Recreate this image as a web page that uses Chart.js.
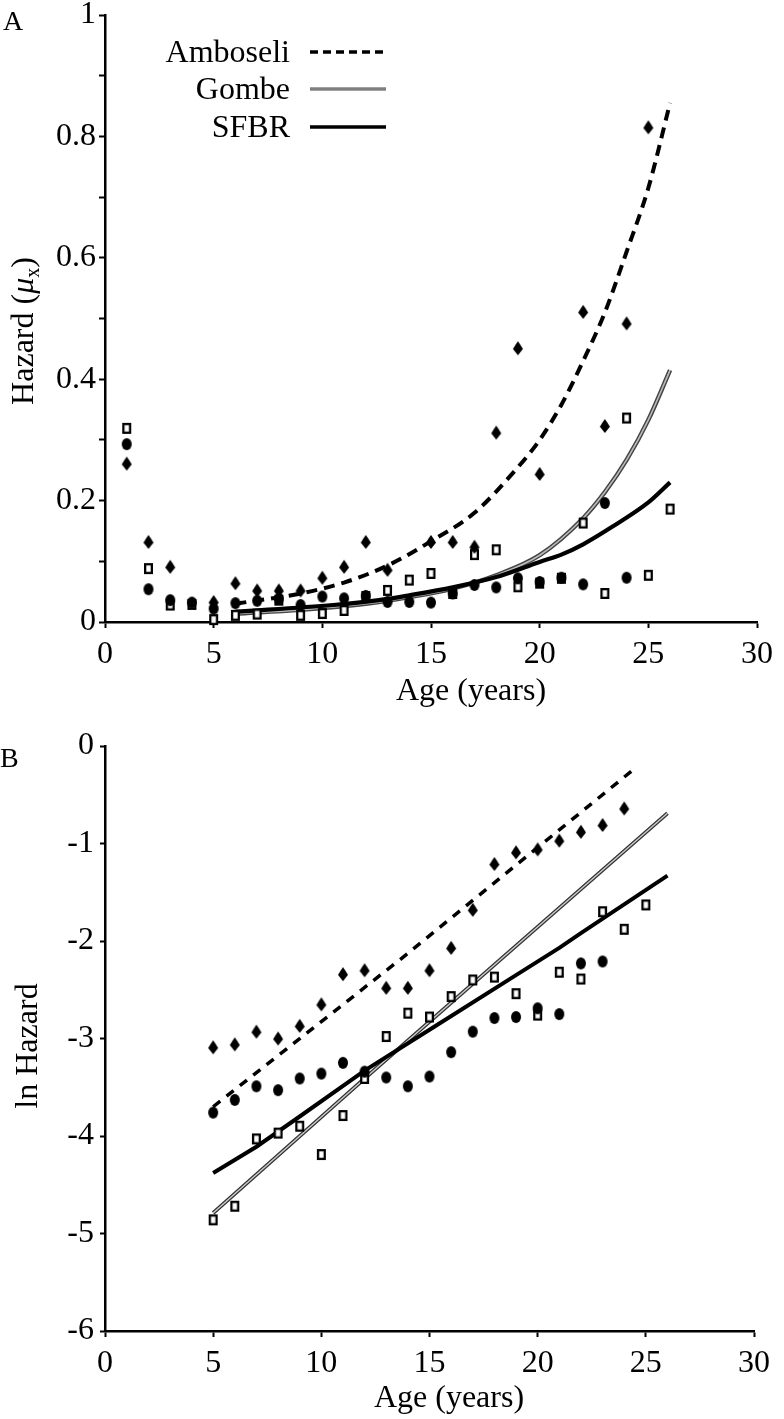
<!DOCTYPE html>
<html>
<head>
<meta charset="utf-8">
<script src="https://cdn.jsdelivr.net/npm/chart.js@4.4.0/dist/chart.umd.min.js"></script>
<style>
  html, body { margin: 0; padding: 0; background: #fff; }
  #wrap { position: relative; width: 784px; height: 1419px; overflow: hidden; }
  canvas { position: absolute; left: 0; }
  #chartA { top: 0; }
  #chartB { top: 712px; }
</style>
</head>
<body>
<div id="wrap">
  <canvas id="chartA" width="784" height="712"></canvas>
  <canvas id="chartB" width="784" height="707"></canvas>
</div>
<script>
// ---- data ----
const seriesNames = ['Amboseli', 'Gombe', 'SFBR'];
const ageTicks = [0, 5, 10, 15, 20, 25, 30];

// Panel A: hazard by age
const agesA = [1, 2, 3, 4, 5, 6, 7, 8, 9, 10, 11, 12, 13, 14, 15, 16, 17, 18, 19, 20, 21, 22, 23, 24, 25, 26];
const amboseliA = [0.261, 0.132, 0.091, null, 0.033, 0.064, 0.052, 0.052, 0.052, 0.073, 0.091, 0.132, 0.086, null,
                   0.132, 0.132, 0.124, 0.312, 0.451, 0.244, null, 0.511, 0.323, 0.492, 0.815, null];
const gombeA = [0.319, 0.088, 0.028, 0.029, 0.004, 0.011, 0.013, 0.036, 0.011, 0.014, 0.019, 0.042, 0.052, 0.069,
                0.080, 0.047, 0.111, 0.119, 0.058, 0.064, 0.072, 0.163, 0.047, 0.336, 0.077, 0.186];
const sfbrA = [0.293, 0.054, 0.036, 0.032, 0.022, 0.031, 0.035, 0.038, 0.028, 0.042, 0.039, 0.043, 0.033, 0.033,
               0.032, 0.047, 0.061, 0.057, 0.072, 0.066, 0.073, 0.062, 0.196, 0.073, null, null];

// Panel A fitted curves
const amboseliFitAgeA = [6, 9, 11, 13, 15, 17, 19, 20, 21, 22, 23, 24, 25, 26];
const amboseliFitA = [0.030, 0.047, 0.065, 0.093, 0.133, 0.180, 0.255, 0.300, 0.358, 0.430, 0.510, 0.610, 0.715, 0.855];
const gombeFitAgeA = [6, 9, 12, 14, 16, 18, 20, 22, 23, 24, 25, 26];
const gombeFitA = [0.014, 0.020, 0.030, 0.041, 0.055, 0.077, 0.110, 0.171, 0.214, 0.267, 0.333, 0.415];
const sfbrFitAgeA = [6, 10.5, 12.6, 14, 16, 18, 20, 21, 22, 23.3, 25, 26];
const sfbrFitA = [0.017, 0.028, 0.036, 0.044, 0.057, 0.074, 0.099, 0.111, 0.128, 0.156, 0.197, 0.230];

// Panel B: ln hazard by age
const agesB = [5, 6, 7, 8, 9, 10, 11, 12, 13, 14, 15, 16, 17, 18, 19, 20, 21, 22, 23, 24, 25];
const amboseliB = [-3.09, -3.06, -2.93, -3.00, -2.87, -2.65, -2.34, -2.30, -2.48, -2.48, -2.30, -2.07, -1.68, -1.21,
                   -1.09, -1.06, -0.97, -0.88, -0.81, -0.64, null];
const gombeB = [-4.86, -4.72, -4.03, -3.97, -3.90, -4.19, -3.79, -3.41, -2.98, -2.74, -2.78, -2.57, -2.40, -2.37,
                -2.54, -2.76, -2.32, -2.39, -1.70, -1.88, -1.63];
const sfbrB = [-3.76, -3.63, -3.49, -3.53, -3.41, -3.36, -3.25, -3.34, -3.40, -3.49, -3.39, -3.14, -2.93, -2.79,
               -2.78, -2.69, -2.75, -2.23, -2.21, null, null];

// Panel B fitted lines
const amboseliFitAgeB = [5, 13.7, 24.6];
const amboseliFitB = [-3.70, -2.18, -0.21];
const gombeFitAgeB = [5, 12, 26];
const gombeFitB = [-4.79, -3.41, -0.69];
const sfbrFitAgeB = [5, 7, 9, 12, 15, 19, 21, 22, 26];
const sfbrFitB = [-4.38, -4.11, -3.80, -3.33, -2.91, -2.35, -2.07, -1.92, -1.33];

// ---- helpers ----
const SERIF = "'Liberation Serif', 'Times New Roman', serif";
const toPoints = (xs, ys) => xs.map((x, i) => ({ x: x, y: ys[i] })).filter(p => p.y !== null);

function marker(kind, w, h) {
  const c = document.createElement('canvas');
  c.width = w + 4; c.height = h + 4;
  const g = c.getContext('2d');
  const cx = c.width / 2, cy = c.height / 2;
  g.fillStyle = '#000';
  if (kind === 'diamond') {
    g.beginPath();
    g.moveTo(cx, cy - h / 2);
    g.quadraticCurveTo(cx + w * 0.3, cy - h * 0.2, cx + w / 2, cy + h * 0.05);
    g.lineTo(cx, cy + h / 2);
    g.lineTo(cx - w / 2, cy + h * 0.05);
    g.quadraticCurveTo(cx - w * 0.3, cy - h * 0.2, cx, cy - h / 2);
    g.fill();
  } else if (kind === 'ellipse') {
    g.beginPath();
    g.ellipse(cx, cy, w / 2, h / 2, 0, 0, Math.PI * 2);
    g.fill();
  } else {
    g.fillStyle = '#fff';
    g.fillRect(cx - w / 2, cy - h / 2, w, h);
    g.strokeStyle = '#000';
    g.lineWidth = 2.3;
    g.strokeRect(cx - w / 2 + 1.15, cy - h / 2 + 1.15, w - 2.3, h - 2.3);
  }
  return c;
}
const diamondImg = marker('diamond', 10, 14);
const circleImg = marker('ellipse', 10, 12);
const squareImg = marker('square', 9, 11);

function pointSet(data, img) {
  return { data: data, pointStyle: img, showLine: false, clip: false, pointRadius: 5, pointHoverRadius: 5 };
}
function curveSet(data, color, width, dash, smooth) {
  return {
    data: data, showLine: true, pointRadius: 0, borderColor: color, borderWidth: width,
    borderDash: dash || [], clip: false, fill: false,
    cubicInterpolationMode: smooth ? 'monotone' : 'default', tension: 0
  };
}

// text drawn around the plot: panel letter, axis titles, line key
const frameText = {
  id: 'frameText',
  afterDraw(chart, args, opts) {
    const ctx = chart.ctx;
    ctx.save();
    ctx.fillStyle = '#000';
    ctx.textBaseline = 'alphabetic';
    // panel letter
    ctx.font = '28px ' + SERIF;
    ctx.textAlign = 'left';
    ctx.fillText(opts.letter, opts.letterX, opts.letterY);
    // x title
    ctx.font = '32px ' + SERIF;
    ctx.textAlign = 'center';
    ctx.fillText(opts.xTitle, opts.xTitleX, opts.xTitleY);
    // rotated y title built from parts
    ctx.translate(opts.yTitleX, opts.yTitleY);
    ctx.rotate(-Math.PI / 2);
    ctx.textAlign = 'left';
    let total = 0;
    opts.yTitle.forEach(p => { ctx.font = p.font; total += ctx.measureText(p.t).width; });
    let x = -total / 2;
    opts.yTitle.forEach(p => {
      ctx.font = p.font;
      ctx.fillText(p.t, x, p.dy || 0);
      x += ctx.measureText(p.t).width;
    });
    ctx.restore();

    if (!opts.key) return;
    ctx.save();
    ctx.font = '32px ' + SERIF;
    ctx.textAlign = 'right';
    ctx.textBaseline = 'middle';
    opts.key.forEach(k => {
      ctx.fillStyle = '#000';
      ctx.fillText(k.label, 290, k.y + 2);
      k.strokes.forEach(s => {
        ctx.beginPath();
        ctx.setLineDash(s.dash || []);
        ctx.strokeStyle = s.color;
        ctx.lineWidth = s.width;
        ctx.moveTo(310, k.y);
        ctx.lineTo(386, k.y);
        ctx.stroke();
      });
    });
    ctx.restore();
  }
};

function axisX(scaleHeight) {
  return {
    type: 'linear', min: 0, max: 30,
    afterBuildTicks: s => { s.ticks = ageTicks.map(v => ({ value: v })); },
    afterFit: s => { s.height = scaleHeight; },
    grid: { drawOnChartArea: false, drawTicks: true, tickLength: 6, tickWidth: 2, tickColor: '#000' },
    border: { display: true, color: '#000', width: 2.5 },
    ticks: { color: '#000', padding: 11, maxRotation: 0, font: { family: SERIF, size: 32, lineHeight: 1 } }
  };
}

// ---- panel A ----
new Chart(document.getElementById('chartA'), {
  type: 'scatter',
  data: {
    datasets: [
      pointSet(toPoints(agesA, amboseliA), diamondImg),
      pointSet(toPoints(agesA, sfbrA), circleImg),
      pointSet(toPoints(agesA, gombeA), squareImg),
      curveSet(toPoints(amboseliFitAgeA, amboseliFitA), '#000', 4, [11, 7], true),
      curveSet(toPoints(sfbrFitAgeA, sfbrFitA), '#000', 4.2, null, true),
      curveSet(toPoints(gombeFitAgeA, gombeFitA), '#bbb', 1.6, null, true),
      curveSet(toPoints(gombeFitAgeA, gombeFitA), '#444', 4.5, null, true)
    ]
  },
  options: {
    responsive: false, animation: false, events: [],
    layout: { padding: { top: 12, right: 24, left: 0, bottom: 0 } },
    scales: {
      x: axisX(90),
      y: {
        type: 'linear', min: 0, max: 1,
        afterFit: s => { s.width = 105; },
        grid: { drawOnChartArea: false, drawTicks: true, tickLength: 6, tickWidth: 2, tickColor: '#000' },
        border: { display: true, color: '#000', width: 2.5 },
        ticks: {
          stepSize: 0.1, color: '#000', padding: 3,
          font: { family: SERIF, size: 32, lineHeight: 0.75 },
          callback: v => { const t = Math.round(v * 10); return t % 2 === 0 ? String(t / 10) : ''; }
        }
      }
    },
    plugins: {
      legend: { display: false },
      tooltip: { enabled: false },
      frameText: {
        letter: 'A', letterX: 3, letterY: 30,
        xTitle: 'Age (years)', xTitleX: 471, xTitleY: 700,
        yTitleX: 33, yTitleY: 331,
        yTitle: [
          { t: 'Hazard (', font: '32px ' + SERIF },
          { t: '\u03BC', font: 'italic 32px ' + SERIF },
          { t: 'x', font: '20px ' + SERIF, dy: 6 },
          { t: ')', font: '32px ' + SERIF }
        ],
        key: [
          { label: seriesNames[0], y: 52, strokes: [{ color: '#000', width: 3.5, dash: [8, 5] }] },
          { label: seriesNames[1], y: 89, strokes: [{ color: '#444', width: 3 }, { color: '#bbb', width: 1 }] },
          { label: seriesNames[2], y: 127, strokes: [{ color: '#000', width: 3.5 }] }
        ]
      }
    }
  },
  plugins: [frameText]
});

// ---- panel B ----
new Chart(document.getElementById('chartB'), {
  type: 'scatter',
  data: {
    datasets: [
      pointSet(toPoints(agesB, amboseliB), diamondImg),
      pointSet(toPoints(agesB, sfbrB), circleImg),
      pointSet(toPoints(agesB, gombeB), squareImg),
      curveSet(toPoints(amboseliFitAgeB, amboseliFitB), '#000', 3.5, [9, 8], false),
      curveSet(toPoints(sfbrFitAgeB, sfbrFitB), '#000', 4, null, false),
      curveSet(toPoints(gombeFitAgeB, gombeFitB), '#ccc', 1.4, null, false),
      curveSet(toPoints(gombeFitAgeB, gombeFitB), '#333', 3.8, null, false)
    ]
  },
  options: {
    responsive: false, animation: false, events: [],
    layout: { padding: { top: 34, right: 30, left: 0, bottom: 0 } },
    scales: {
      x: axisX(88),
      y: {
        type: 'linear', min: -6, max: 0,
        afterFit: s => { s.width = 105; },
        grid: { drawOnChartArea: false, drawTicks: true, tickLength: 5, tickWidth: 2, tickColor: '#000' },
        border: { display: true, color: '#000', width: 2.5 },
        ticks: { stepSize: 1, color: '#000', padding: 6, font: { family: SERIF, size: 32, lineHeight: 1 } }
      }
    },
    plugins: {
      legend: { display: false },
      tooltip: { enabled: false },
      frameText: {
        letter: 'B', letterX: 0, letterY: 55,
        xTitle: 'Age (years)', xTitleX: 449, xTitleY: 695,
        yTitleX: 37, yTitleY: 334,
        yTitle: [{ t: 'ln Hazard', font: '32px ' + SERIF }]
      }
    }
  },
  plugins: [frameText]
});
</script>
</body>
</html>
